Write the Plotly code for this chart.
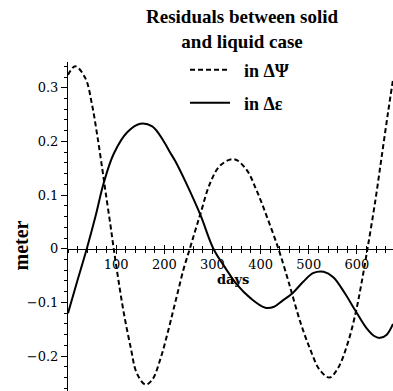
import plotly.graph_objects as go

# Residuals in ΔΨ (dashed)
days_psi = [0, 15, 36, 50, 61, 71, 78, 88, 95, 105, 116, 130, 143, 161, 175,
            192, 206, 218, 228, 240, 253, 264, 275, 295, 316, 345, 371, 392,
            413, 437, 455, 465, 482, 502, 523, 543, 561, 582, 598, 609, 622,
            638, 652, 665, 675]
res_psi = [0.324, 0.340, 0.318, 0.268, 0.210, 0.150, 0.106, 0.045, 0.0, -0.060,
           -0.120, -0.183, -0.232, -0.253, -0.244, -0.205, -0.160, -0.117,
           -0.081, -0.038, 0.0, 0.033, 0.065, 0.122, 0.155, 0.167, 0.147, 0.108,
           0.060, 0.0, -0.052, -0.083, -0.135, -0.185, -0.226, -0.240, -0.222,
           -0.173, -0.117, -0.067, 0.0, 0.088, 0.175, 0.256, 0.315]

# Residuals in Δε (solid)
days_eps = [0, 19, 39, 57, 74, 95, 123, 150, 175, 199, 213, 223, 244, 275, 302,
            327, 351, 379, 410, 428, 445, 465, 489, 510, 531, 551, 575, 598,
            620, 635, 648, 662, 675]
res_eps = [-0.120, -0.061, 0.0, 0.060, 0.122, 0.177, 0.217, 0.233, 0.228, 0.200,
           0.178, 0.163, 0.125, 0.063, 0.0, -0.036, -0.067, -0.092, -0.110,
           -0.108, -0.097, -0.084, -0.061, -0.045, -0.043, -0.053, -0.083,
           -0.117, -0.148, -0.162, -0.166, -0.160, -0.140]

x_ticks = [100, 200, 300, 400, 500, 600]
y_ticks = [-0.2, -0.1, 0, 0.1, 0.2, 0.3]
y_tick_text = ["\u22120.2", "\u22120.1", "0", "0.1", "0.2", "0.3"]

X_RANGE = [0, 675]
Y_RANGE = [-0.265, 0.348]
zero_pos = (0 - Y_RANGE[0]) / (Y_RANGE[1] - Y_RANGE[0])

W, H = 393, 391
ML, MT = 68, 62
PW, PH = W - ML, H - MT


def px_x(px):
    return (px - ML) / PW


def px_y(py):
    return (H - py) / PH


fig = go.Figure()
fig.add_trace(go.Scatter(
    x=days_psi, y=res_psi, mode="lines",
    name="\u00a0\u00a0<b>in \u0394\u03a8</b>", showlegend=True,
    line=dict(color="black", width=2, dash="5px,3px", shape="spline", smoothing=1.0),
    legend="legend", xaxis="x", yaxis="y"))
fig.add_trace(go.Scatter(
    x=days_eps, y=res_eps, mode="lines",
    name="\u00a0\u00a0<b>in \u0394\u03b5</b>", showlegend=True,
    line=dict(color="black", width=2, shape="spline", smoothing=1.0),
    legend="legend2", xaxis="x2", yaxis="y"))

axis_font = dict(family="DejaVu Serif", size=13, color="black")
legend_font = dict(family="Liberation Serif", size=18, color="black")

fig.update_layout(
    width=W, height=H,
    margin=dict(l=ML, r=0, t=MT, b=0),
    paper_bgcolor="white", plot_bgcolor="white",
    showlegend=True,
    xaxis=dict(range=X_RANGE, anchor="free", position=zero_pos,
               showline=True, linecolor="black", linewidth=1,
               showgrid=False, zeroline=False,
               tickvals=x_ticks, ticks="outside", ticklen=4, tickcolor="black",
               tickfont=axis_font,
               minor=dict(dtick=20, tick0=0, ticks="outside", ticklen=3,
                          tickcolor="black", showgrid=False)),
    xaxis2=dict(range=X_RANGE, overlaying="x", anchor="free", position=zero_pos,
                showline=False, showgrid=False, zeroline=False,
                showticklabels=False,
                tickvals=x_ticks, ticks="inside", ticklen=4, tickcolor="black",
                minor=dict(dtick=20, tick0=0, ticks="inside", ticklen=3,
                           tickcolor="black", showgrid=False)),
    yaxis=dict(range=Y_RANGE, showline=True, linecolor="black", linewidth=1,
               showgrid=False, zeroline=False,
               tickvals=y_ticks, ticktext=y_tick_text,
               ticks="outside", ticklen=6, tickcolor="black", tickfont=axis_font,
               minor=dict(dtick=0.02, tick0=0, ticks="outside", ticklen=3,
                          tickcolor="black", showgrid=False)),
    legend=dict(x=px_x(185), y=px_y(70), xanchor="left",
                yanchor="middle", font=legend_font, bgcolor="rgba(0,0,0,0)",
                itemwidth=40),
    legend2=dict(x=px_x(185), y=px_y(103), xanchor="left",
                 yanchor="middle", font=legend_font, bgcolor="rgba(0,0,0,0)",
                 itemwidth=40),
    annotations=[
        dict(text="<b>Residuals between solid<br>and liquid case</b>",
             xref="paper", yref="paper", x=px_x(242), y=px_y(28.5),
             xanchor="center", yanchor="middle", showarrow=False, align="center",
             font=dict(family="Liberation Serif", size=19, color="black")),
        dict(text="<b>meter</b>", xref="paper", yref="paper",
             x=px_x(20), y=px_y(245.5),
             xanchor="center", yanchor="middle", textangle=-90, showarrow=False,
             font=dict(family="Liberation Serif", size=20, color="black")),
        dict(text="<b>days</b>", xref="paper", yref="paper",
             x=px_x(233), y=px_y(279),
             xanchor="center", yanchor="middle", showarrow=False,
             font=dict(family="DejaVu Serif", size=13, color="black")),
    ],
)

fig.write_html("out.html")
